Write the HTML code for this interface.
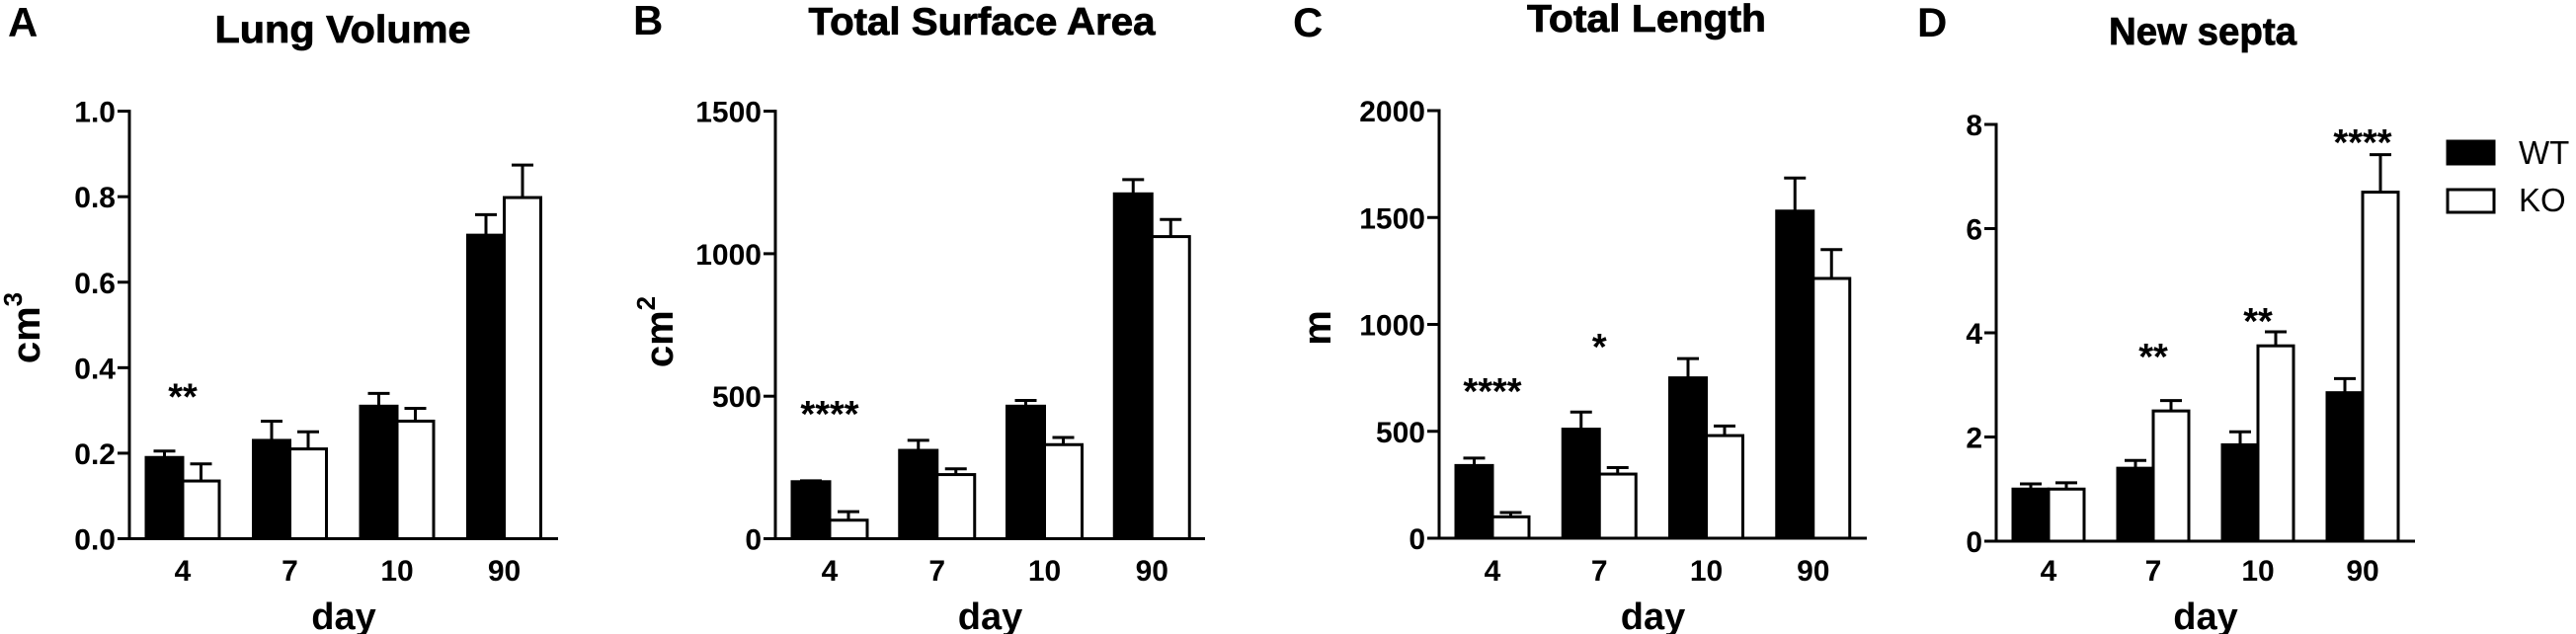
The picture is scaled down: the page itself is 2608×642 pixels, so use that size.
<!DOCTYPE html>
<html><head><meta charset="utf-8"><style>
body{margin:0;background:#fff}
svg{display:block;font-family:"Liberation Sans",Arial,sans-serif}
</style></head><body>
<svg id="fig" width="2608" height="642" viewBox="0 0 2608 642" xmlns="http://www.w3.org/2000/svg">
<rect width="2608" height="642" fill="#fff"/>
</svg>
<script>
const categories = ["4","7","10","90"];
// Panel A: Lung Volume
const aWT = [0.19, 0.23, 0.31, 0.71];
const aWTerr = [0.015, 0.045, 0.03, 0.048];
const aKO = [0.135, 0.21, 0.275, 0.798];
const aKOerr = [0.04, 0.04, 0.03, 0.076];
const aTicks = [0, 0.2, 0.4, 0.6, 0.8, 1.0];
const aTickLabels = ["0.0","0.2","0.4","0.6","0.8","1.0"];
const aStars = [{g:0, v:0.354, t:"**"}];
// Panel B: Total Surface Area
const bWT = [200, 310, 465, 1210];
const bWTerr = [3, 35, 20, 50];
const bKO = [65, 225, 330, 1060];
const bKOerr = [30, 20, 25, 60];
const bTicks = [0, 500, 1000, 1500];
const bTickLabels = ["0","500","1000","1500"];
const bStars = [{g:0, v:469, t:"****"}];
// Panel C: Total Length
const cWT = [340, 510, 750, 1530];
const cWTerr = [35, 80, 90, 155];
const cKO = [100, 300, 480, 1215];
const cKOerr = [20, 30, 45, 135];
const cTicks = [0, 500, 1000, 1500, 2000];
const cTickLabels = ["0","500","1000","1500","2000"];
const cStars = [{g:0, v:730, t:"****"}, {g:1, v:938, t:"*"}];
// Panel D: New septa
const dWT = [1.0, 1.4, 1.85, 2.85];
const dWTerr = [0.1, 0.15, 0.25, 0.27];
const dKO = [1.0, 2.5, 3.75, 6.7];
const dKOerr = [0.12, 0.2, 0.27, 0.72];
const dTicks = [0, 2, 4, 6, 8];
const dTickLabels = ["0","2","4","6","8"];
const dStars = [{g:1, v:3.72, t:"**"}, {g:2, v:4.4, t:"**"}, {g:3, v:7.83, t:"****"}];

const NS = "http://www.w3.org/2000/svg";
const svg = document.getElementById("fig");
function mk(tag, attrs, parent, text){
  const e = document.createElementNS(NS, tag);
  for (const k in attrs) e.setAttribute(k, attrs[k]);
  if (text !== undefined) e.textContent = text;
  (parent || svg).appendChild(e);
  return e;
}
const panels = [
  {id:"a", letter:"A", lx:8, ly:37, title:"Lung Volume", tx:347, ty:43, tw:259, ylab:"cm", sup:"3", ylx:40, yly:332,
   x0:131, x1:565, yT:112.6, yZ:545.5, max:1.0, off:17, bw:37, wt:aWT, wte:aWTerr, ko:aKO, koe:aKOerr, ticks:aTicks, tl:aTickLabels, stars:aStars},
  {id:"b", letter:"B", lx:641, ly:35, title:"Total Surface Area", tx:994, ty:35, tw:351, ylab:"cm", sup:"2", ylx:681, yly:336,
   x0:785, x1:1220, yT:112.6, yZ:545.5, max:1500, off:17, bw:38, wt:bWT, wte:bWTerr, ko:bKO, koe:bKOerr, ticks:bTicks, tl:bTickLabels, stars:bStars},
  {id:"c", letter:"C", lx:1309, ly:37, title:"Total Length", tx:1667, ty:32, tw:242, ylab:"m", sup:"", ylx:1347, yly:332,
   x0:1457, x1:1890, yT:112, yZ:545, max:2000, off:17, bw:37, wt:cWT, wte:cWTerr, ko:cKO, koe:cKOerr, ticks:cTicks, tl:cTickLabels, stars:cStars},
  {id:"d", letter:"D", lx:1941, ly:37, title:"New septa", tx:2230, ty:45, tw:190, ylab:"", sup:"", ylx:0, yly:0,
   x0:2021, x1:2445, yT:126, yZ:548, max:8, off:17, bw:36, wt:dWT, wte:dWTerr, ko:dKO, koe:dKOerr, ticks:dTicks, tl:dTickLabels, stars:dStars}
];
panels.forEach(p => {
  const g = mk("g", {});
  
  
  const y = v => p.yZ - (v / p.max) * (p.yZ - p.yT);
  const band = (p.x1 - p.x0) / categories.length;
  const bx = i => p.x0 + i * band + p.off;
  const L = mk("text", {x:p.lx, y:p.ly, "font-size":42, "font-weight":"bold"}, g, p.letter);
  
  
  const T = mk("text", {x:p.tx, y:p.ty, "font-size":39, "font-weight":"bold", "text-anchor":"middle", textLength:p.tw, lengthAdjust:"spacingAndGlyphs", stroke:"#000", "stroke-width":0.8}, g, p.title);
  
  
  if (p.ylab) {
    const yl = mk("text", {x:0, y:0, "font-size":40, "font-weight":"bold", "text-anchor":"middle", transform:`translate(${p.ylx},${p.yly}) rotate(-90)`}, g);
    
    
    mk("tspan", {}, yl, p.ylab);
    if (p.sup) mk("tspan", {"font-size":26, dy:-18}, yl, p.sup);
  }
  categories.forEach((c, i) => {
    const x = bx(i);
    [[p.wt, p.wte, "#000", "wt"], [p.ko, p.koe, "#fff", "ko"]].forEach(([vals, errs, fill, nm], k) => {
      const xx = x + k * p.bw;
      const top = y(vals[i]);
      const cx = xx + p.bw / 2;
      const el = mk("line", {x1:cx, x2:cx, y1:top, y2:y(vals[i] + errs[i]), stroke:"#000", "stroke-width":3}, g);
      
      
      const cap = mk("line", {x1:cx - 11, x2:cx + 11, y1:y(vals[i] + errs[i]), y2:y(vals[i] + errs[i]), stroke:"#000", "stroke-width":3}, g);
      
      
      const r = mk("rect", {x:xx, y:top, width:p.bw, height:p.yZ - top, fill:fill, stroke:"#000", "stroke-width":3}, g);
      
      
    });
    const tl = mk("text", {x:x + p.bw, y:588, "font-size":30, "font-weight":"bold", "text-anchor":"middle"}, g, c);
    
    
  });
  const ya = mk("line", {x1:p.x0, x2:p.x0, y1:p.yT - 1.5, y2:p.yZ, stroke:"#000", "stroke-width":3}, g);
  
  
  const xa = mk("line", {x1:p.x0 - 1.5, x2:p.x1, y1:p.yZ, y2:p.yZ, stroke:"#000", "stroke-width":3}, g);
  
  
  p.ticks.forEach((t, j) => {
    const tk = mk("line", {x1:p.x0 - 12, x2:p.x0, y1:y(t), y2:y(t), stroke:"#000", "stroke-width":3}, g);
    
    
    const lb = mk("text", {x:p.x0 - 14, y:y(t) + 11, "font-size":30, "font-weight":"bold", "text-anchor":"end"}, g, p.tl[j]);
    
    
  });
  p.stars.forEach(s => {
    const st = mk("text", {x:bx(s.g) + p.bw, y:y(s.v) + 22, "font-size":38, "font-weight":"bold", "text-anchor":"middle"}, g, s.t);
    
    
  });
  const dl = mk("text", {x:(p.x0 + p.x1) / 2, y:637, "font-size":38, "font-weight":"bold", "text-anchor":"middle"}, g, "day");
  
  
});
const lg = mk("g", {});


const l1 = mk("rect", {x:2478, y:143, width:47, height:23, fill:"#000", stroke:"#000", "stroke-width":3}, lg);


const l2 = mk("text", {x:2550, y:166, "font-size":33}, lg, "WT");


const l3 = mk("rect", {x:2478, y:192, width:47, height:23, fill:"#fff", stroke:"#000", "stroke-width":3}, lg);


const l4 = mk("text", {x:2550, y:214, "font-size":33}, lg, "KO");


</script>
</body></html>
